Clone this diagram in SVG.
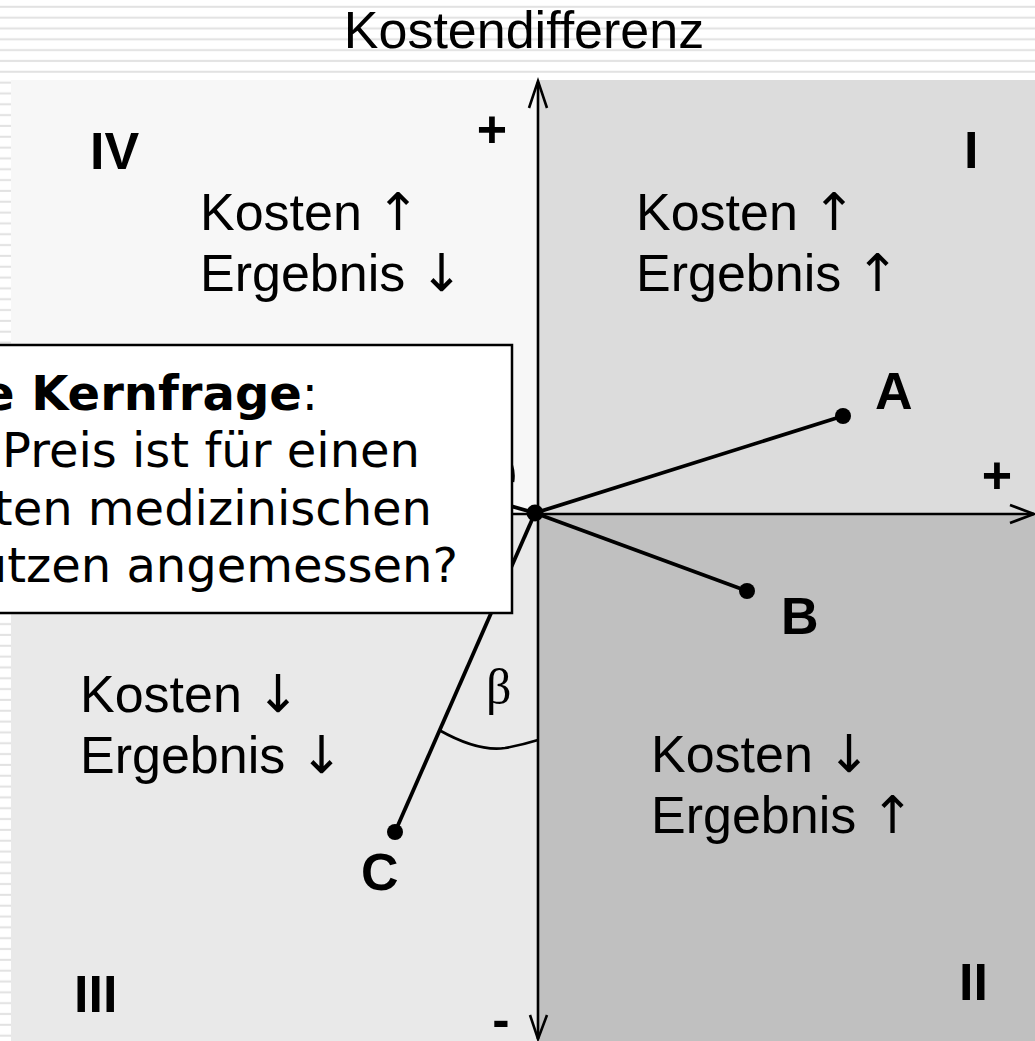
<svg xmlns="http://www.w3.org/2000/svg" width="1035" height="1041" viewBox="0 0 1035 1041">
  <defs>
    <pattern id="stripes" patternUnits="userSpaceOnUse" x="0" y="0" width="1035" height="10.83">
      <rect x="0" y="0" width="1035" height="10.83" fill="#ffffff"/>
      <rect x="0" y="5.8" width="1035" height="2" fill="#e2e2e2"/>
    </pattern>
    <style>
      .lbl { font-family: "Liberation Sans", Arial, sans-serif; font-size: 52px; fill: #000; }
      .arr { font-family: "DejaVu Sans", sans-serif; }
      .big { font-family: "Liberation Sans", Arial, sans-serif; font-size: 52px; font-weight: bold; fill: #000; }
      .box { font-family: "DejaVu Sans", Verdana, sans-serif; font-size: 48px; fill: #000; }
      .axis { stroke: #000; stroke-width: 2.6; fill: none; }
      .seg { stroke: #000; stroke-width: 3.8; fill: none; }
      .dot { fill: #000; }
    </style>
  </defs>

  <!-- background -->
  <rect x="0" y="0" width="1035" height="1041" fill="url(#stripes)"/>

  <!-- quadrants -->
  <g id="quadrants">
    <rect id="q4" x="11" y="80" width="528" height="434" fill="#f7f7f7"/>
    <rect id="q1" x="539" y="80" width="496" height="434" fill="#dcdcdc"/>
    <rect id="q3" x="11" y="514" width="528" height="527" fill="#e9e9e9"/>
    <rect id="q2" x="539" y="514" width="496" height="527" fill="#c0c0c0"/>
  </g>

  <!-- title -->
  <text id="title" class="lbl" x="524" y="48" text-anchor="middle" font-size="54">Kostendifferenz</text>

  <!-- connectors -->
  <g id="connectors">
    <!-- axes -->
    <line class="axis" x1="538" y1="82" x2="538" y2="1039"/>
    <polyline class="axis" points="529,108 538,81 547,108"/>
    <polyline class="axis" points="530,1015 538,1039 547,1015"/>
    <line class="axis" x1="470" y1="514" x2="1034" y2="514"/>
    <polyline class="axis" points="1010,505 1034,514 1010,523"/>
    <!-- segments -->
    <line class="seg" x1="535" y1="513" x2="843" y2="416"/>
    <line class="seg" x1="535" y1="513" x2="747" y2="591"/>
    <line class="seg" x1="535" y1="513" x2="395" y2="832"/>
    <line class="seg" x1="535" y1="513" x2="420" y2="480"/>
    <!-- angle arcs -->
    <path class="axis" d="M439,730 Q478,752 505,748 Q522,745 538,740"/>
    <path class="axis" d="M490,440 Q517,458 513,482"/>
  </g>

  <!-- info box -->
  <g id="box">
    <rect x="-10" y="345" width="522" height="268" fill="#ffffff" stroke="#000" stroke-width="2.5"/>
    <text class="box" x="318" y="410" text-anchor="end"><tspan font-weight="bold">e Kernfrage</tspan>:</text>
    <text class="box" x="420" y="467" text-anchor="end">Preis ist für einen</text>
    <text class="box" x="432" y="525" text-anchor="end">ten medizinischen</text>
    <text class="box" x="458" y="582" text-anchor="end">utzen angemessen?</text>
  </g>

  <!-- points -->
  <g id="origin"><circle class="dot" cx="535" cy="513" r="8.5"/></g>
  <g id="pointA"><circle class="dot" cx="843" cy="416" r="8"/><text class="big" x="875" y="409">A</text></g>
  <g id="pointB"><circle class="dot" cx="747" cy="591" r="8"/><text class="big" x="781" y="634">B</text></g>
  <g id="pointC"><circle class="dot" cx="395" cy="832" r="8"/><text class="big" x="361" y="890">C</text></g>

  <!-- beta -->
  <g id="beta"><text x="486" y="704" font-family="Liberation Serif, 'Times New Roman', serif" font-size="50">β</text></g>

  <!-- axis signs -->
  <g id="signs">
    <text class="big" x="492" y="147" text-anchor="middle">+</text>
    <text class="big" x="997" y="493" text-anchor="middle">+</text>
    <text class="big" x="501" y="1037" text-anchor="middle">-</text>
  </g>

  <!-- quadrant numerals -->
  <g id="numerals">
    <text class="big" x="90" y="169">IV</text>
    <text class="big" x="964" y="168">I</text>
    <text class="big" x="74" y="1012">III</text>
    <text class="big" x="959" y="1000">II</text>
  </g>

  <!-- quadrant descriptions -->
  <g id="q4text"><text class="lbl" x="200" y="230">Kosten <tspan class="arr">↑</tspan></text><text class="lbl" x="200" y="291">Ergebnis <tspan class="arr">↓</tspan></text></g>
  <g id="q1text"><text class="lbl" x="636" y="230">Kosten <tspan class="arr">↑</tspan></text><text class="lbl" x="636" y="291">Ergebnis <tspan class="arr">↑</tspan></text></g>
  <g id="q3text"><text class="lbl" x="80" y="712">Kosten <tspan class="arr">↓</tspan></text><text class="lbl" x="80" y="773">Ergebnis <tspan class="arr">↓</tspan></text></g>
  <g id="q2text"><text class="lbl" x="651" y="772">Kosten <tspan class="arr">↓</tspan></text><text class="lbl" x="651" y="833">Ergebnis <tspan class="arr">↑</tspan></text></g>
</svg>
